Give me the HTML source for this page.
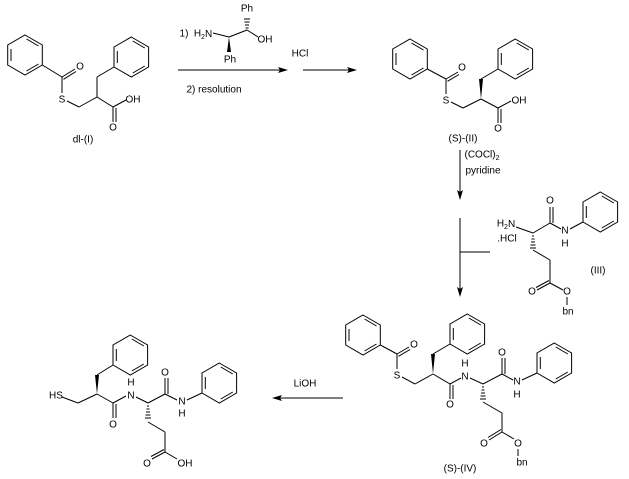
<!DOCTYPE html>
<html><head><meta charset="utf-8"><style>
html,body{margin:0;padding:0;background:#fff}
svg{display:block}
text{font-family:"Liberation Sans",sans-serif;font-size:10px;fill:#000}
</style></head><body>
<svg width="629" height="479" viewBox="0 0 629 479" xmlns="http://www.w3.org/2000/svg">
<defs>
<g id="ring" fill="none" stroke="#000" stroke-width="1">
<polygon points="0,-20 17.3,-10 17.3,10 0,20 -17.3,10 -17.3,-10"/>
<line x1="1.5" y1="-16" x2="13.5" y2="-9"/>
<line x1="13.5" y1="9" x2="1.5" y2="16"/>
<line x1="-14" y1="6" x2="-14" y2="-6"/>
</g>
</defs>
<g stroke="#000" stroke-width="1" fill="none">
<use href="#ring" x="25" y="55"/>
<line x1="42.3" y1="65" x2="62" y2="77"/>
<line x1="62" y1="77" x2="75" y2="69"/><line x1="63.5" y1="79.3" x2="76" y2="71.5"/>
<line x1="62" y1="77" x2="62" y2="93"/>
<line x1="67" y1="101" x2="79" y2="107"/>
<line x1="79" y1="107" x2="97" y2="97"/>
<line x1="97" y1="97" x2="97" y2="77"/>
<line x1="97" y1="77" x2="114" y2="67"/>
<use href="#ring" x="131.3" y="57"/>
<line x1="97" y1="97" x2="113" y2="107"/>
<line x1="113" y1="107" x2="126" y2="100"/>
<line x1="113" y1="107" x2="113" y2="122"/><line x1="116" y1="108" x2="116" y2="122"/>
<line x1="213" y1="33" x2="229" y2="37"/>
<line x1="229" y1="37" x2="247" y2="30"/>
<line x1="247" y1="30" x2="258" y2="37"/>
<line x1="178" y1="70" x2="283" y2="70"/>
<line x1="303" y1="70" x2="352" y2="70"/>
<use href="#ring" x="410" y="59"/>
<line x1="427.3" y1="69" x2="446" y2="79"/>
<line x1="446" y1="79" x2="458" y2="72"/><line x1="447.5" y1="81.3" x2="459" y2="74.5"/>
<line x1="446" y1="79" x2="446" y2="94"/>
<line x1="451" y1="102" x2="463" y2="108"/>
<line x1="463" y1="108" x2="481" y2="99"/>
<line x1="481" y1="79" x2="498" y2="69"/>
<use href="#ring" x="515.3" y="59"/>
<line x1="481" y1="99" x2="498" y2="108"/>
<line x1="498" y1="108" x2="511" y2="101"/>
<line x1="498" y1="108" x2="498" y2="123"/><line x1="501" y1="109" x2="501" y2="123"/>
<line x1="460" y1="150" x2="460" y2="195"/>
<line x1="460" y1="218" x2="460" y2="292"/>
<line x1="460" y1="252" x2="490" y2="252"/>
<line x1="516" y1="227" x2="533" y2="233"/>
<line x1="533" y1="233" x2="550" y2="223"/>
<line x1="550" y1="223" x2="550" y2="207"/><line x1="553" y1="223" x2="553" y2="207"/>
<line x1="550" y1="223" x2="561" y2="229"/>
<line x1="570" y1="229" x2="583" y2="222"/>
<use href="#ring" x="600.3" y="212"/>
<line x1="533" y1="250" x2="550" y2="260"/>
<line x1="550" y1="260" x2="550" y2="283"/>
<line x1="550" y1="283" x2="537" y2="290"/><line x1="549" y1="280.5" x2="536" y2="287.5"/>
<line x1="550" y1="283" x2="563" y2="290"/>
<line x1="567" y1="297" x2="567" y2="305"/>
<use href="#ring" x="363" y="335"/>
<line x1="380.3" y1="345" x2="397" y2="354"/>
<line x1="397" y1="354" x2="409" y2="347"/><line x1="398.5" y1="356.3" x2="410" y2="349.5"/>
<line x1="397" y1="354" x2="397" y2="369"/>
<line x1="402" y1="377" x2="415" y2="384"/>
<line x1="415" y1="384" x2="433" y2="374"/>
<line x1="433" y1="354" x2="450" y2="344"/>
<use href="#ring" x="467.3" y="334"/>
<line x1="433" y1="374" x2="450" y2="384"/>
<line x1="450" y1="384" x2="450" y2="399"/><line x1="453" y1="385" x2="453" y2="399"/>
<line x1="450" y1="384" x2="461" y2="378"/>
<line x1="470" y1="378" x2="483" y2="384"/>
<line x1="483" y1="384" x2="502" y2="374"/>
<line x1="502" y1="374" x2="502" y2="358"/><line x1="505" y1="374" x2="505" y2="358"/>
<line x1="502" y1="374" x2="513" y2="380"/>
<line x1="522" y1="380" x2="537" y2="373"/>
<use href="#ring" x="554.3" y="363"/>
<line x1="483" y1="402" x2="502" y2="413"/>
<line x1="502" y1="413" x2="502" y2="432"/>
<line x1="502" y1="432" x2="489" y2="440"/><line x1="501" y1="429.5" x2="488" y2="437.5"/>
<line x1="502" y1="432" x2="514" y2="439"/>
<line x1="518" y1="449" x2="518" y2="456"/>
<line x1="343" y1="398" x2="277" y2="398"/>
<line x1="62" y1="397" x2="78" y2="403"/>
<line x1="78" y1="403" x2="97" y2="394"/>
<line x1="97" y1="375" x2="113" y2="365"/>
<use href="#ring" x="130.3" y="355"/>
<line x1="97" y1="394" x2="113" y2="403"/>
<line x1="113" y1="403" x2="113" y2="418"/><line x1="116" y1="404" x2="116" y2="418"/>
<line x1="113" y1="403" x2="126" y2="396"/>
<line x1="136" y1="397" x2="148" y2="403"/>
<line x1="148" y1="403" x2="165" y2="394"/>
<line x1="165" y1="394" x2="165" y2="378"/><line x1="168" y1="394" x2="168" y2="378"/>
<line x1="165" y1="394" x2="177" y2="400"/>
<line x1="187" y1="400" x2="202" y2="393"/>
<use href="#ring" x="219.3" y="383"/>
<line x1="148" y1="422" x2="165" y2="432"/>
<line x1="165" y1="432" x2="165" y2="452"/>
<line x1="165" y1="452" x2="152" y2="459"/><line x1="164" y1="449.5" x2="151" y2="456.5"/>
<line x1="165" y1="452" x2="177" y2="459"/>
</g>
<g fill="#000">
<polygon points="229,37 227,52 231,52"/>
<polygon points="481,99 479,79 483,79"/>
<polygon points="433,374 431,354 435,354"/>
<polygon points="97,394 95,375 99,375"/>
<polygon points="288,70 278,67 280,70 278,73"/>
<polygon points="357,70 347,67 349,70 347,73"/>
<polygon points="460,200 457,190 460,192 463,190"/>
<polygon points="460,297 457,287 460,289 463,287"/>
<polygon points="272,398 282,395 280,398 282,401"/>
</g>
<g stroke="#000" stroke-width="1">
<path d="M245.5 28h3M245 25h4M244.5 22h5M244 19h6"/>
<path d="M532 236h2M531.5 239h3M531 242h4M530.5 245h5M530 248h6"/>
<path d="M482 387h2M481.5 390h3M481 393h4M480.5 396h5M480 399h6"/>
<path d="M147 406h2M146.5 409h3M146 412h4M145.5 415h5M145 418h6"/>
</g>
<g dominant-baseline="central" text-anchor="middle">
<text x="80" y="67">O</text>
<text x="62" y="100">S</text>
<text x="133" y="100">OH</text>
<text x="113" y="128">O</text>
<text x="83" y="140">dl-(I)</text>
<text x="184" y="34">1)</text>
<text x="203" y="34">H<tspan font-size="7" dy="3">2</tspan><tspan dy="-3">N</tspan></text>
<text x="247" y="9">Ph</text>
<text x="230" y="60">Ph</text>
<text x="265" y="40">OH</text>
<text x="214" y="90">2) resolution</text>
<text x="300" y="54">HCl</text>
<text x="462" y="68">O</text>
<text x="446" y="101">S</text>
<text x="519" y="101">OH</text>
<text x="498" y="129">O</text>
<text x="463" y="139">(S)-(II)</text>
<text x="482" y="155">(COCl)<tspan font-size="7" dy="3">2</tspan></text>
<text x="483" y="171">pyridine</text>
<text x="506" y="224">H<tspan font-size="7" dy="3">2</tspan><tspan dy="-3">N</tspan></text>
<text x="507" y="239">.HCl</text>
<text x="550" y="201">O</text>
<text x="565" y="231">N</text>
<text x="565" y="244">H</text>
<text x="598" y="271">(III)</text>
<text x="532" y="292">O</text>
<text x="567" y="292">O</text>
<text x="568" y="312">bn</text>
<text x="414" y="345">O</text>
<text x="397" y="376">S</text>
<text x="465" y="377">N</text>
<text x="465" y="364">H</text>
<text x="450" y="405">O</text>
<text x="502" y="353">O</text>
<text x="517" y="382">N</text>
<text x="517" y="395">H</text>
<text x="484" y="444">O</text>
<text x="518" y="444">O</text>
<text x="522" y="463">bn</text>
<text x="460" y="469">(S)-(IV)</text>
<text x="305" y="384">LiOH</text>
<text x="56" y="396">HS</text>
<text x="113" y="425">O</text>
<text x="131" y="396">N</text>
<text x="131" y="383">H</text>
<text x="165" y="373">O</text>
<text x="182" y="402">N</text>
<text x="182" y="414">H</text>
<text x="147" y="464">O</text>
<text x="185" y="464">OH</text>
</g>
</svg>
</body></html>
